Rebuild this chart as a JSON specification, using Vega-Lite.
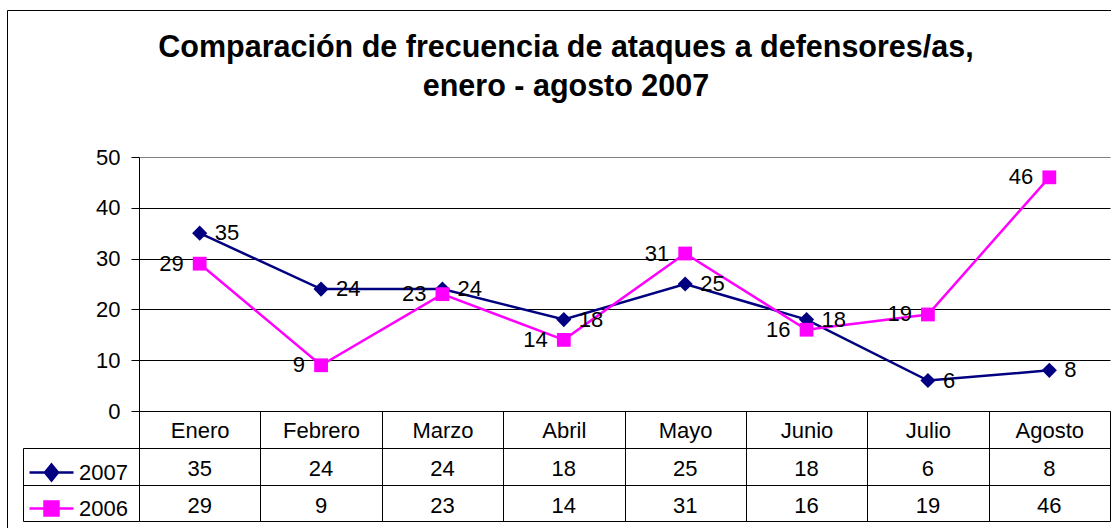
{
  "$schema": "https://vega.github.io/schema/vega-lite/v6.json",
  "width": 1104,
  "height": 518,
  "autosize": {"type": "none"},
  "padding": {"left": 7, "top": 10, "right": 0, "bottom": 0},
  "background": "white",
  "title": {
    "text": ["Comparación de frecuencia de ataques a defensores/as,", "enero - agosto 2007"],
    "anchor": "middle",
    "frame": "group",
    "offset": -92,
    "dx": 7,
    "fontSize": 30.5,
    "fontWeight": "bold",
    "font": "Liberation Sans",
    "color": "#000000",
    "lineHeight": 39
  },
  "config": {
    "font": "Liberation Sans",
    "view": {"stroke": "#000000", "strokeWidth": 1}
  },
  "data": {
    "values": [
      {"mes": "Enero", "serie": "2007", "valor": 35},
      {"mes": "Febrero", "serie": "2007", "valor": 24},
      {"mes": "Marzo", "serie": "2007", "valor": 24},
      {"mes": "Abril", "serie": "2007", "valor": 18},
      {"mes": "Mayo", "serie": "2007", "valor": 25},
      {"mes": "Junio", "serie": "2007", "valor": 18},
      {"mes": "Julio", "serie": "2007", "valor": 6},
      {"mes": "Agosto", "serie": "2007", "valor": 8},
      {"mes": "Enero", "serie": "2006", "valor": 29},
      {"mes": "Febrero", "serie": "2006", "valor": 9},
      {"mes": "Marzo", "serie": "2006", "valor": 23},
      {"mes": "Abril", "serie": "2006", "valor": 14},
      {"mes": "Mayo", "serie": "2006", "valor": 31},
      {"mes": "Junio", "serie": "2006", "valor": 16},
      {"mes": "Julio", "serie": "2006", "valor": 19},
      {"mes": "Agosto", "serie": "2006", "valor": 46}
    ]
  },
  "resolve": {"scale": {"y": "independent"}},
  "layer": [
    {
      "layer": [
        {
          "mark": {"type": "line", "strokeWidth": 2.5},
          "encoding": {
            "x": {
              "field": "mes", "type": "nominal",
              "sort": ["Enero", "Febrero", "Marzo", "Abril", "Mayo", "Junio", "Julio", "Agosto"],
              "scale": {"type": "band", "domain": ["Enero", "Febrero", "Marzo", "Abril", "Mayo", "Junio", "Julio", "Agosto"], "range": [132, 1103], "paddingInner": 0, "paddingOuter": 0},
              "axis": {
                "orient": "bottom", "offset": -117, "title": null,
                "domainColor": "#000000", "domainWidth": 1,
                "tickBand": "extent", "tickSize": 110, "tickColor": "#000000", "tickWidth": 1,
                "labelFontSize": 22, "labelColor": "#000000", "labelPadding": -91,
                "labelBaseline": "middle", "labelAngle": 0, "grid": false
              }
            },
            "y": {
              "field": "valor", "type": "quantitative",
              "scale": {"domain": [0, 50], "range": [401, 147], "nice": false},
              "axis": {
                "orient": "left", "offset": -132, "title": null,
                "values": [0, 10, 20, 30, 40, 50],
                "tickSize": 8, "tickColor": "#000000", "domainColor": "#000000",
                "labelFontSize": 22, "labelPadding": 11, "labelColor": "#000000",
                "grid": true,
                "gridColor": {"condition": {"test": "datum.value === 50", "value": "#808080"}, "value": "#000000"},
                "gridOpacity": 1
              }
            },
            "color": {
              "field": "serie", "type": "nominal",
              "scale": {"domain": ["2007", "2006"], "range": ["#000080", "#FF00FF"]},
              "legend": {
                "orient": "none", "legendX": 33, "legendY": 451,
                "title": null, "padding": 0, "direction": "vertical",
                "symbolSize": 400, "symbolStrokeWidth": 2.5,
                "labelFontSize": 22, "labelColor": "#000000", "labelOffset": 16,
                "rowPadding": 10,
                "encode": {
                  "symbols": {
                    "update": {
                      "shape": {"signal": "datum.value === '2007' ? 'M-2.2,0H2.2M0,-0.8L0.65,0L0,0.8L-0.65,0Z' : 'M-2.2,0H2.2M-0.7,-0.7H0.7V0.7H-0.7Z'"},
                      "fill": {"signal": "datum.value === '2007' ? '#000080' : '#FF00FF'"},
                      "stroke": {"signal": "datum.value === '2007' ? '#000080' : '#FF00FF'"},
                      "strokeWidth": {"value": 2.5},
                      "opacity": {"value": 1},
                      "fillOpacity": {"value": 1}
                    }
                  }
                }
              }
            }
          }
        },
        {
          "transform": [{"filter": "datum.serie === '2007'"}],
          "mark": {"type": "point", "shape": "diamond", "filled": true, "opacity": 1, "size": 230},
          "encoding": {
            "x": {"field": "mes", "type": "nominal", "sort": ["Enero", "Febrero", "Marzo", "Abril", "Mayo", "Junio", "Julio", "Agosto"]},
            "y": {"field": "valor", "type": "quantitative"},
            "color": {"field": "serie", "type": "nominal"}
          }
        },
        {
          "transform": [{"filter": "datum.serie === '2006'"}],
          "mark": {"type": "point", "shape": "square", "filled": true, "opacity": 1, "size": 190},
          "encoding": {
            "x": {"field": "mes", "type": "nominal", "sort": ["Enero", "Febrero", "Marzo", "Abril", "Mayo", "Junio", "Julio", "Agosto"]},
            "y": {"field": "valor", "type": "quantitative"},
            "color": {"field": "serie", "type": "nominal"}
          }
        },
        {
          "transform": [{"filter": "datum.serie === '2007'"}],
          "mark": {"type": "text", "align": "left", "baseline": "middle", "dx": 15, "fontSize": 22, "color": "#000000"},
          "encoding": {
            "x": {"field": "mes", "type": "nominal", "sort": ["Enero", "Febrero", "Marzo", "Abril", "Mayo", "Junio", "Julio", "Agosto"]},
            "y": {"field": "valor", "type": "quantitative"},
            "text": {"field": "valor", "type": "quantitative"}
          }
        },
        {
          "transform": [{"filter": "datum.serie === '2006'"}],
          "mark": {"type": "text", "align": "right", "baseline": "middle", "dx": -16, "fontSize": 22, "color": "#000000"},
          "encoding": {
            "x": {"field": "mes", "type": "nominal", "sort": ["Enero", "Febrero", "Marzo", "Abril", "Mayo", "Junio", "Julio", "Agosto"]},
            "y": {"field": "valor", "type": "quantitative"},
            "text": {"field": "valor", "type": "quantitative"}
          }
        }
      ]
    },
    {
      "layer": [
        {
          "mark": {"type": "text", "baseline": "middle", "fontSize": 22, "color": "#000000", "dy": 3},
          "encoding": {
            "x": {"field": "mes", "type": "nominal", "sort": ["Enero", "Febrero", "Marzo", "Abril", "Mayo", "Junio", "Julio", "Agosto"]},
            "y": {
              "field": "serie", "type": "nominal",
              "scale": {"type": "band", "domain": ["2007", "2006"], "range": [438, 511], "paddingInner": 0, "paddingOuter": 0},
              "axis": {
                "orient": "left", "offset": -16, "title": null, "labels": false,
                "tickBand": "extent", "tickSize": -116, "tickColor": "#000000", "tickWidth": 1,
                "domainColor": "#000000", "domainWidth": 1,
                "grid": true, "gridColor": "#000000", "gridOpacity": 1
              }
            },
            "text": {"field": "valor", "type": "quantitative"}
          }
        }
      ]
    }
  ]
}
